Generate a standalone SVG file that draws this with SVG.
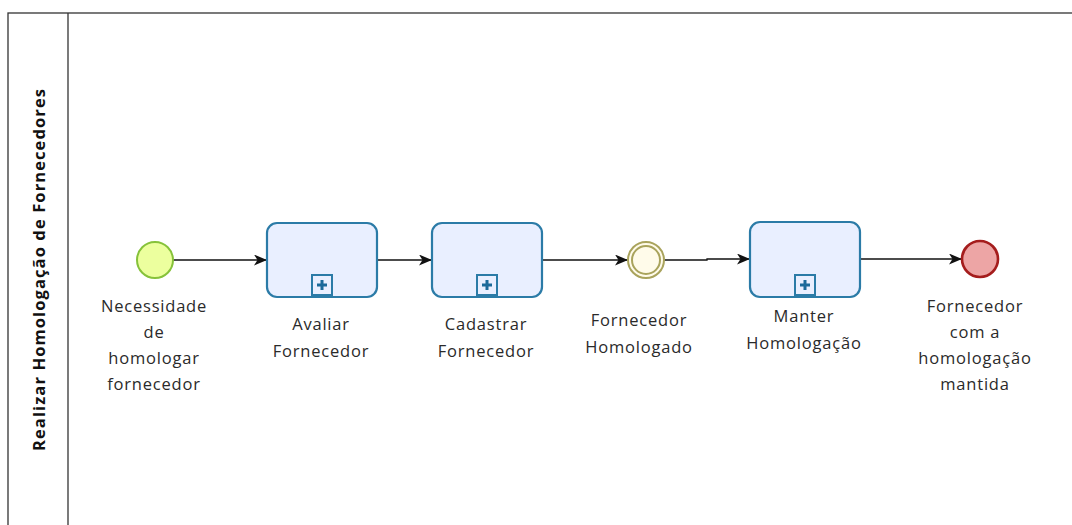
<svg xmlns="http://www.w3.org/2000/svg" width="1072" height="525" viewBox="0 0 1072 525">
<style>
.lbl{font-family:"Open Sans","DejaVu Sans",sans-serif;font-size:16.5px;letter-spacing:0.8px;fill:#2a2a2a;text-anchor:middle;dominant-baseline:central}
.task{fill:#e9efff;stroke:#2b7ba7;stroke-width:2.2}
.mk{fill:#e9efff;stroke:#2b7ba7;stroke-width:2}
.flow{fill:none;stroke:#111;stroke-width:1.3;marker-end:url(#arr)}
</style>
<defs>
<marker id="arr" viewBox="0 0 13 11" refX="12" refY="5.5" markerWidth="13" markerHeight="11" markerUnits="userSpaceOnUse" orient="auto">
<path d="M0,0 L13,5.5 L0,11 L3.5,5.5 Z" fill="#111"/>
</marker>
<g id="plus">
<rect x="-10" y="-10" width="20" height="20" class="mk"/>
<path d="M-5,0 H5 M0,-5 V5" stroke="#1c6a9a" stroke-width="3"/>
</g>
</defs>
<g id="pool">
<rect x="8" y="13" width="1080" height="530" fill="#fff" stroke="#333" stroke-width="1.3"/>
<line x1="68" y1="13" x2="68" y2="543" stroke="#333" stroke-width="1.3"/>
<text transform="translate(38,270) rotate(-90)" textLength="362" lengthAdjust="spacing" style="font-family:'Open Sans','DejaVu Sans',sans-serif;font-size:16.5px;font-weight:bold;fill:#111;text-anchor:middle;dominant-baseline:central">Realizar Homologação de Fornecedores</text>
</g>
<g id="connectors">
<path class="flow" d="M173,260 H266"/>
<path class="flow" d="M377,260 H431"/>
<path class="flow" d="M542,260 H627"/>
<path class="flow" d="M664,260 H707 V259 H749"/>
<path class="flow" d="M860,259 H961"/>
</g>
<g id="start">
<circle cx="155" cy="260" r="18" fill="#ecff9e" stroke="#86c23a" stroke-width="2"/>
<text class="lbl" x="154" y="305">Necessidade</text>
<text class="lbl" x="154" y="331">de</text>
<text class="lbl" x="154" y="357">homologar</text>
<text class="lbl" x="154" y="383">fornecedor</text>
</g>
<g id="task1">
<rect class="task" x="267" y="223" width="110" height="74" rx="10"/>
<use href="#plus" x="322" y="285"/>
<text class="lbl" x="321" y="323">Avaliar</text>
<text class="lbl" x="321" y="350">Fornecedor</text>
</g>
<g id="task2">
<rect class="task" x="432" y="223" width="110" height="74" rx="10"/>
<use href="#plus" x="487" y="285"/>
<text class="lbl" x="486" y="323">Cadastrar</text>
<text class="lbl" x="486" y="350">Fornecedor</text>
</g>
<g id="intermediate">
<circle cx="646" cy="260" r="18" fill="#fffbea" stroke="#a9a35c" stroke-width="2"/>
<circle cx="646" cy="260" r="14" fill="none" stroke="#a9a35c" stroke-width="2"/>
<text class="lbl" x="639" y="319">Fornecedor</text>
<text class="lbl" x="639" y="346">Homologado</text>
</g>
<g id="task3">
<rect class="task" x="750" y="222" width="110" height="75" rx="10"/>
<use href="#plus" x="805" y="285"/>
<text class="lbl" x="804" y="315">Manter</text>
<text class="lbl" x="804" y="342">Homologação</text>
</g>
<g id="end">
<circle cx="980" cy="259" r="18" fill="#eda5a5" stroke="#a51d1d" stroke-width="2.6"/>
<text class="lbl" x="975" y="305">Fornecedor</text>
<text class="lbl" x="975" y="331">com a</text>
<text class="lbl" x="975" y="357">homologação</text>
<text class="lbl" x="975" y="383">mantida</text>
</g>
</svg>
